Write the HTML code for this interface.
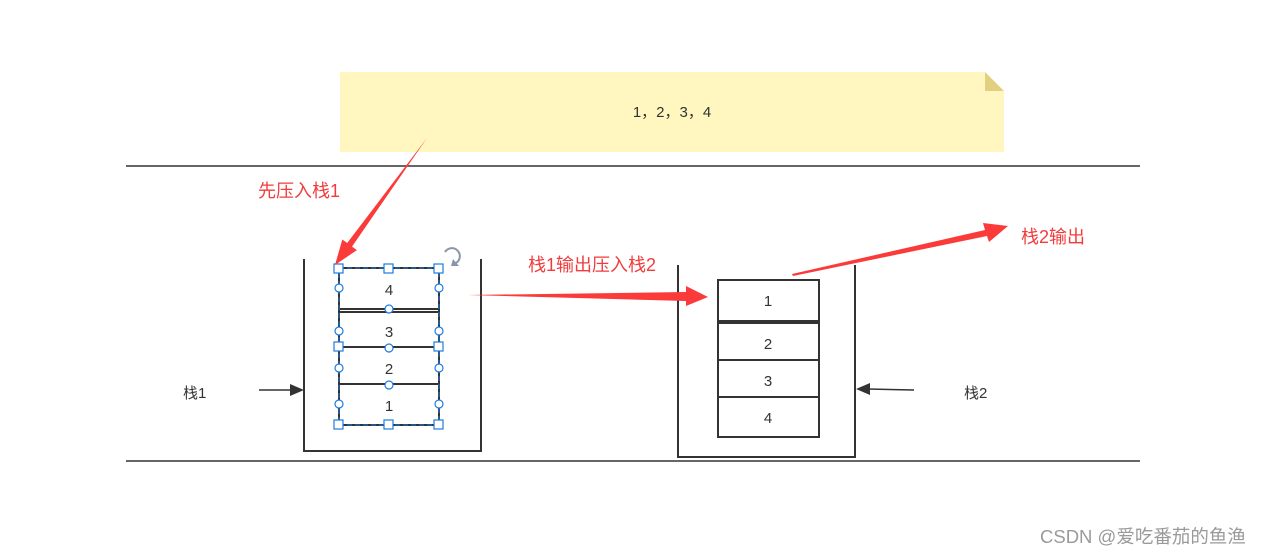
<!DOCTYPE html>
<html><head><meta charset="utf-8"><style>
html,body{margin:0;padding:0;background:#fff;}
svg{display:block;}
text{font-family:"Liberation Sans","Noto Sans CJK SC",sans-serif;}
</style></head><body>
<svg width="1265" height="555" viewBox="0 0 1265 555" xmlns="http://www.w3.org/2000/svg">
<polygon points="340,72 985,72 1004,91 1004,152 340,152" fill="#fff7bf"/>
<polygon points="985,72 1004,91 985,91" fill="#e2cf80"/>
<text x="672" y="117" font-size="15" fill="#333" text-anchor="middle" font-family="'Noto Sans CJK SC',sans-serif">1，2，3，4</text>
<line x1="126" y1="166" x2="1140" y2="166" stroke="#333" stroke-width="1.5"/>
<line x1="126" y1="461" x2="1140" y2="461" stroke="#333" stroke-width="1.5"/>
<polyline points="304,259 304,451 481,451 481,259" fill="none" stroke="#333" stroke-width="2"/>
<polyline points="678,265 678,457 855,457 855,265" fill="none" stroke="#333" stroke-width="2"/>
<g stroke="#333" stroke-width="2" fill="none">
<rect x="339" y="268" width="100" height="157"/>
<line x1="339" y1="309" x2="439" y2="309"/>
<line x1="339" y1="312" x2="439" y2="312"/>
<line x1="339" y1="347" x2="439" y2="347"/>
<line x1="339" y1="384" x2="439" y2="384"/>
</g>
<rect x="339" y="268" width="100" height="157" fill="none" stroke="#1e7be0" stroke-width="1" stroke-dasharray="5,3"/>
<g font-size="15" fill="#333" text-anchor="middle">
<text x="389" y="295">4</text><text x="389" y="337">3</text><text x="389" y="374">2</text><text x="389" y="411">1</text>
</g>
<g fill="#fff" stroke="#1e7be0" stroke-width="1.2">
<rect x="334" y="264" width="9" height="9"/><rect x="384" y="264" width="9" height="9"/><rect x="434" y="264" width="9" height="9"/>
<rect x="334" y="342" width="9" height="9"/><rect x="434" y="342" width="9" height="9"/>
<rect x="334" y="420" width="9" height="9"/><rect x="384" y="420" width="9" height="9"/><rect x="434" y="420" width="9" height="9"/>
<circle cx="339" cy="288" r="4"/><circle cx="439" cy="288" r="4"/>
<circle cx="389" cy="309" r="4"/>
<circle cx="339" cy="331" r="4"/><circle cx="439" cy="331" r="4"/>
<circle cx="389" cy="348" r="4"/>
<circle cx="339" cy="368" r="4"/><circle cx="439" cy="368" r="4"/>
<circle cx="389" cy="385" r="4"/>
<circle cx="339" cy="404" r="4"/><circle cx="439" cy="404" r="4"/>
</g>
<path d="M445,252 A8,8 0 1 1 456,263" fill="none" stroke="#8a96a8" stroke-width="2"/>
<polygon points="453,259 459,266 451,266" fill="#8a96a8"/>
<g stroke="#333" stroke-width="2" fill="#fff">
<rect x="718" y="280" width="101" height="41"/>
<rect x="718" y="323" width="101" height="37"/>
<rect x="718" y="360" width="101" height="37"/>
<rect x="718" y="397" width="101" height="40"/>
</g>
<g font-size="15" fill="#333" text-anchor="middle">
<text x="768" y="306">1</text><text x="768" y="349">2</text><text x="768" y="386">3</text><text x="768" y="423">4</text>
</g>
<text x="183" y="398" font-size="15" fill="#333">栈1</text>
<line x1="259" y1="390" x2="292" y2="390" stroke="#333" stroke-width="1.5"/>
<polygon points="304,390 290,384 290,396" fill="#333"/>
<text x="964" y="398" font-size="15" fill="#333">栈2</text>
<line x1="914" y1="390" x2="868" y2="389" stroke="#333" stroke-width="1.5"/>
<polygon points="856,389 870,383 870,395" fill="#333"/>
<polygon points="427,138 352,246.6 356.9,250.1 335,265 342.3,239.5 347.2,243" fill="#fb3a3a"/>
<polygon points="468,295 686,292 686,286 708,297 686,306 686,301" fill="#fb3a3a"/>
<polygon points="792,274 985,230 983,223 1008,226 989,242 987,236 793,276" fill="#fb3a3a"/>
<g font-size="18" fill="#f03c3c">
<text x="258" y="197">先压入栈1</text>
<text x="528" y="271">栈1输出压入栈2</text>
<text x="1021" y="243">栈2输出</text>
</g>
<text x="1040" y="543" font-size="18.5" fill="#9a9a9a">CSDN @爱吃番茄的鱼渔</text>
</svg>
</body></html>
